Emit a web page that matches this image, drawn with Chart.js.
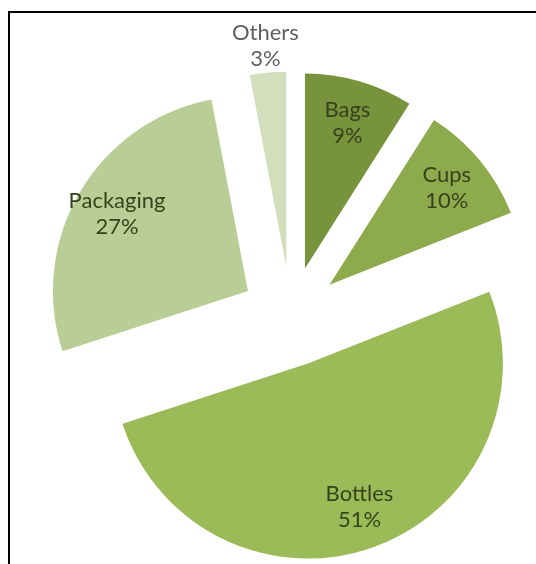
<!DOCTYPE html>
<html>
<head>
<meta charset="utf-8">
<script src="https://cdn.jsdelivr.net/npm/chart.js@4.4.1/dist/chart.umd.min.js"></script>
<style>
    html, body { margin: 0; padding: 0; background: #fff; }
    #wrap { position: relative; width: 536px; height: 564px; overflow: hidden; }
    #frame {
        position: absolute; left: 8px; top: 11px; right: -10px; bottom: -10px;
        border-top: 2px solid #000; border-left: 2px solid #000;
    }
    #waste { position: absolute; left: 0; top: 0; }
</style>
</head>
<body>
<div id="wrap">
    <div id="frame"></div>
    <canvas id="waste" width="536" height="564"></canvas>
</div>
<script>
// plastic waste by product type, % share
const categories = ["Bags", "Cups", "Bottles", "Packaging", "Others"];
const shares = [9, 10, 51, 27, 3];

const explodePx = 50; // how far every slice is pulled out from the centre

// pulls each slice out along its own middle angle (like an exploded Excel pie)
const explodePlugin = {
    id: "explode",
    afterDatasetUpdate(chart, args) {
        args.meta.data.forEach((arc) => {
            const mid = (arc.startAngle + arc.endAngle) / 2;
            arc.x += Math.cos(mid) * explodePx;
            arc.y += Math.sin(mid) * explodePx;
        });
    },
};

// "Name\nxx%" labels, small slices get their label outside
const labelPlugin = {
    id: "sliceLabels",
    afterDatasetsDraw(chart) {
        const ctx = chart.ctx;
        const meta = chart.getDatasetMeta(0);
        const total = shares.reduce((a, b) => a + b, 0);
        ctx.save();
        ctx.font = "22px Lato";
        ctx.textAlign = "center";
        ctx.textBaseline = "middle";
        meta.data.forEach((arc, i) => {
            const pct = (shares[i] / total) * 100;
            const mid = (arc.startAngle + arc.endAngle) / 2;
            const outside = pct < 5;
            const r = arc.outerRadius * (outside ? 1.14 : 0.78);
            const x = arc.x + Math.cos(mid) * r;
            const y = arc.y + Math.sin(mid) * r;
            ctx.fillStyle = outside ? "#5f5f5f" : "#34431b";
            ctx.fillText(categories[i], x, y - 13);
            ctx.fillText(Math.round(pct) + "%", x, y + 13);
        });
        ctx.restore();
    },
};

const wasteChart = new Chart(document.getElementById("waste"), {
    type: "pie",
    data: {
        labels: categories,
        datasets: [
            {
                data: shares,
                backgroundColor: ["#77933c", "#8dab4c", "#9bbb59", "#b9cd96", "#d3dfbc"],
                borderWidth: 0,
            },
        ],
    },
    options: {
        responsive: false,
        animation: false,
        devicePixelRatio: 1,
        radius: 195,
        rotation: 0,
        layout: {
            padding: { left: 46, top: 69, right: 0, bottom: 0 },
        },
        plugins: {
            legend: { display: false },
            tooltip: { enabled: false },
        },
    },
    plugins: [explodePlugin, labelPlugin],
});
</script>
</body>
</html>
